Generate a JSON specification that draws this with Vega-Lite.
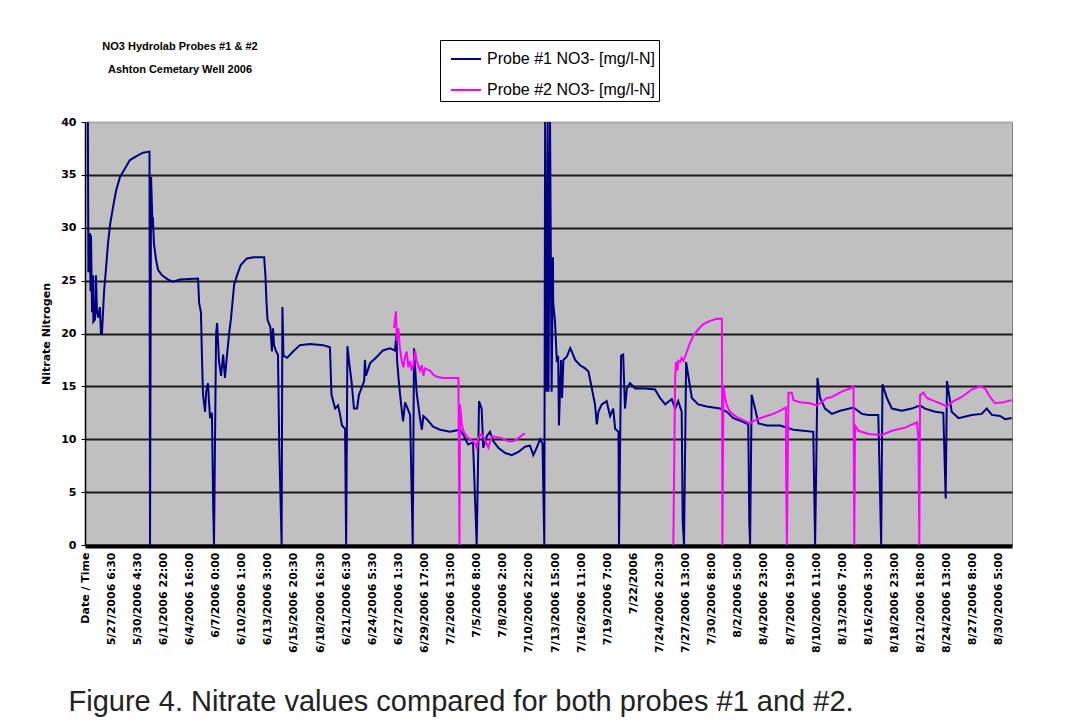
{
  "$schema": "https://vega.github.io/schema/vega-lite/v6.json",
  "autosize": "none",
  "width": 927,
  "height": 423,
  "padding": {"left": 85, "top": 122, "right": 55, "bottom": 178},
  "background": "white",
  "title": {
    "text": ["NO3 Hydrolab Probes #1 & #2", "Ashton Cemetary Well 2006"],
    "anchor": "start",
    "frame": "group",
    "align": "center",
    "dx": 95,
    "offset": -35,
    "font": "Liberation Sans",
    "fontSize": 11,
    "fontWeight": "bold",
    "lineHeight": 23,
    "color": "black"
  },
  "datasets": {
    "probe1": [
      {"x":11,"y":40},{"x":13,"y":25.8},{"x":15,"y":29.5},{"x":17,"y":26},{"x":19,"y":29.5},{"x":21,"y":24},{"x":23,"y":29.3},{"x":27,"y":22},{"x":31,"y":25.5},{"x":32,"y":21.1},{"x":38,"y":21.3},{"x":42,"y":25.5},{"x":46,"y":22},{"x":50,"y":21.5},{"x":57,"y":22.5},{"x":61,"y":20},{"x":65,"y":20},{"x":69,"y":22},{"x":73,"y":24},{"x":80,"y":26},{"x":88,"y":28.5},{"x":96,"y":30.3},{"x":107,"y":31.9},{"x":119,"y":33.5},{"x":134,"y":34.8},{"x":153,"y":35.6},{"x":172,"y":36.4},{"x":199,"y":36.8},{"x":222,"y":37.1},{"x":247,"y":37.2},{"x":249,"y":0},{"x":253,"y":34.8},{"x":257,"y":31.5},{"x":259,"y":30},{"x":260,"y":31},{"x":264,"y":28.5},{"x":272,"y":27},{"x":280,"y":26},{"x":295,"y":25.5},{"x":318,"y":25.1},{"x":337,"y":24.9},{"x":364,"y":25.1},{"x":433,"y":25.2},{"x":437,"y":22.9},{"x":444,"y":22},{"x":448,"y":17.7},{"x":452,"y":14.2},{"x":460,"y":12.6},{"x":464,"y":14.5},{"x":471,"y":15.3},{"x":475,"y":13.5},{"x":479,"y":12},{"x":486,"y":12.5},{"x":491,"y":3.5},{"x":494,"y":0},{"x":502,"y":20},{"x":506,"y":21},{"x":513,"y":17.4},{"x":521,"y":16},{"x":529,"y":18},{"x":536,"y":15.8},{"x":544,"y":18},{"x":552,"y":20},{"x":559,"y":21.4},{"x":571,"y":24.6},{"x":582,"y":25.5},{"x":597,"y":26.5},{"x":620,"y":27.1},{"x":647,"y":27.2},{"x":686,"y":27.2},{"x":691,"y":25.5},{"x":695,"y":23},{"x":699,"y":21.3},{"x":710,"y":20.6},{"x":716,"y":18.3},{"x":720,"y":20.5},{"x":724,"y":18.9},{"x":732,"y":18.3},{"x":739,"y":18},{"x":744,"y":9.2},{"x":753,"y":0},{"x":756,"y":22.5},{"x":760,"y":17.9},{"x":774,"y":17.7},{"x":793,"y":18.2},{"x":823,"y":18.9},{"x":862,"y":19},{"x":912,"y":18.9},{"x":938,"y":18.7},{"x":944,"y":14.2},{"x":958,"y":12.9},{"x":969,"y":13.2},{"x":977,"y":12.3},{"x":984,"y":11.3},{"x":996,"y":11},{"x":1000,"y":0},{"x":1005,"y":18.8},{"x":1011,"y":17.4},{"x":1021,"y":15.4},{"x":1030,"y":12.9},{"x":1042,"y":12.9},{"x":1049,"y":14.2},{"x":1069,"y":15.5},{"x":1072,"y":17.5},{"x":1076,"y":16},{"x":1092,"y":17.2},{"x":1118,"y":17.8},{"x":1141,"y":18.4},{"x":1168,"y":18.6},{"x":1187,"y":18.4},{"x":1193,"y":20},{"x":1195,"y":17.5},{"x":1201,"y":15.7},{"x":1206,"y":14.4},{"x":1212,"y":13},{"x":1218,"y":11.7},{"x":1226,"y":13.5},{"x":1237,"y":12.8},{"x":1245,"y":12.3},{"x":1255,"y":0},{"x":1260,"y":18.6},{"x":1270,"y":14.4},{"x":1283,"y":12},{"x":1290,"y":10.9},{"x":1296,"y":12.2},{"x":1309,"y":11.9},{"x":1333,"y":11.2},{"x":1360,"y":10.9},{"x":1398,"y":10.7},{"x":1436,"y":10.9},{"x":1449,"y":10.4},{"x":1467,"y":9.5},{"x":1486,"y":9.7},{"x":1500,"y":0},{"x":1509,"y":13.6},{"x":1519,"y":12.9},{"x":1525,"y":9.2},{"x":1539,"y":10.3},{"x":1551,"y":10.7},{"x":1564,"y":9.8},{"x":1583,"y":9.2},{"x":1609,"y":8.7},{"x":1634,"y":8.5},{"x":1660,"y":8.8},{"x":1685,"y":9.3},{"x":1704,"y":9.4},{"x":1717,"y":8.5},{"x":1730,"y":9.2},{"x":1743,"y":10},{"x":1752,"y":9.6},{"x":1759,"y":0},{"x":1762,"y":40},{"x":1768,"y":14.5},{"x":1772,"y":40},{"x":1775,"y":14.5},{"x":1781,"y":40},{"x":1787,"y":14.5},{"x":1792,"y":27.2},{"x":1793,"y":23},{"x":1800,"y":21.1},{"x":1807,"y":17.3},{"x":1812,"y":17.9},{"x":1815,"y":11.3},{"x":1823,"y":17.5},{"x":1827,"y":13.9},{"x":1832,"y":17.5},{"x":1845,"y":17.8},{"x":1858,"y":18.6},{"x":1864,"y":18.3},{"x":1877,"y":17.5},{"x":1896,"y":17},{"x":1915,"y":16.7},{"x":1928,"y":16.4},{"x":1941,"y":14.8},{"x":1953,"y":13.3},{"x":1960,"y":11.4},{"x":1966,"y":12.6},{"x":1979,"y":13.3},{"x":1998,"y":13.6},{"x":2004,"y":12.9},{"x":2011,"y":12.2},{"x":2023,"y":12.9},{"x":2030,"y":11},{"x":2043,"y":10.7},{"x":2045,"y":0},{"x":2053,"y":17.9},{"x":2061,"y":18},{"x":2068,"y":12.9},{"x":2075,"y":14.8},{"x":2087,"y":15.3},{"x":2107,"y":14.8},{"x":2145,"y":14.8},{"x":2183,"y":14.7},{"x":2202,"y":13.9},{"x":2222,"y":13.3},{"x":2247,"y":13.8},{"x":2260,"y":12.9},{"x":2272,"y":13.6},{"x":2285,"y":12.6},{"x":2289,"y":2.2},{"x":2294,"y":0},{"x":2302,"y":17.3},{"x":2311,"y":15.9},{"x":2324,"y":13.9},{"x":2348,"y":13.3},{"x":2381,"y":13.1},{"x":2432,"y":12.9},{"x":2458,"y":12.6},{"x":2483,"y":12},{"x":2515,"y":11.7},{"x":2540,"y":11.4},{"x":2544,"y":2.1},{"x":2547,"y":0},{"x":2553,"y":14.2},{"x":2560,"y":13.5},{"x":2566,"y":12.9},{"x":2579,"y":11.5},{"x":2611,"y":11.3},{"x":2662,"y":11.3},{"x":2713,"y":10.9},{"x":2751,"y":10.8},{"x":2789,"y":10.7},{"x":2796,"y":0},{"x":2805,"y":15.8},{"x":2815,"y":13.9},{"x":2834,"y":12.9},{"x":2860,"y":12.4},{"x":2892,"y":12.7},{"x":2943,"y":13},{"x":2975,"y":12.4},{"x":3000,"y":12.3},{"x":3038,"y":12.3},{"x":3049,"y":0},{"x":3054,"y":15.2},{"x":3071,"y":13.9},{"x":3090,"y":12.9},{"x":3128,"y":12.7},{"x":3166,"y":12.9},{"x":3198,"y":13.2},{"x":3217,"y":12.9},{"x":3256,"y":12.6},{"x":3287,"y":12.5},{"x":3296,"y":4.4},{"x":3301,"y":15.5},{"x":3319,"y":12.6},{"x":3345,"y":12},{"x":3396,"y":12.3},{"x":3434,"y":12.4},{"x":3453,"y":12.9},{"x":3473,"y":12.3},{"x":3504,"y":12.2},{"x":3524,"y":11.9},{"x":3549,"y":12}
    ],
    "probe2": [
      {"x":1183,"y":20.5,"seg":1},{"x":1191,"y":22.1,"seg":1},{"x":1194,"y":19.3,"seg":1},{"x":1200,"y":20.5,"seg":1},{"x":1206,"y":18.6,"seg":1},{"x":1213,"y":17.4,"seg":1},{"x":1219,"y":16.8,"seg":1},{"x":1226,"y":17.9,"seg":1},{"x":1232,"y":18.3,"seg":1},{"x":1238,"y":16.8,"seg":1},{"x":1245,"y":17.4,"seg":1},{"x":1251,"y":16.5,"seg":1},{"x":1257,"y":17,"seg":1},{"x":1264,"y":18.4,"seg":1},{"x":1270,"y":17.4,"seg":1},{"x":1283,"y":16.5,"seg":1},{"x":1290,"y":17,"seg":1},{"x":1296,"y":16,"seg":1},{"x":1302,"y":16.7,"seg":1},{"x":1321,"y":16.5,"seg":1},{"x":1334,"y":16.1,"seg":1},{"x":1347,"y":15.9,"seg":1},{"x":1372,"y":15.8,"seg":1},{"x":1430,"y":15.8,"seg":1},{"x":1434,"y":0,"seg":1},{"x":1436,"y":13.3,"seg":1},{"x":1440,"y":12.3,"seg":1},{"x":1443,"y":11.4,"seg":1},{"x":1449,"y":10.8,"seg":1},{"x":1455,"y":10.5,"seg":1},{"x":1468,"y":10.1,"seg":1},{"x":1481,"y":9.9,"seg":1},{"x":1494,"y":9.6,"seg":1},{"x":1500,"y":9.2,"seg":1},{"x":1506,"y":10.1,"seg":1},{"x":1519,"y":10.5,"seg":1},{"x":1532,"y":9.9,"seg":1},{"x":1545,"y":9.2,"seg":1},{"x":1558,"y":10.3,"seg":1},{"x":1577,"y":10.2,"seg":1},{"x":1596,"y":10.1,"seg":1},{"x":1621,"y":9.8,"seg":1},{"x":1640,"y":9.8,"seg":1},{"x":1660,"y":10.1,"seg":1},{"x":1679,"y":10.5,"seg":1},{"x":1685,"y":10.5,"seg":1},
      {"x":2253,"y":0,"seg":2},{"x":2260,"y":15.8,"seg":2},{"x":2263,"y":17.3,"seg":2},{"x":2269,"y":16.5,"seg":2},{"x":2272,"y":17.4,"seg":2},{"x":2279,"y":17.3,"seg":2},{"x":2285,"y":17.7,"seg":2},{"x":2292,"y":17.4,"seg":2},{"x":2305,"y":18.3,"seg":2},{"x":2317,"y":19.1,"seg":2},{"x":2330,"y":19.8,"seg":2},{"x":2349,"y":20.4,"seg":2},{"x":2368,"y":20.9,"seg":2},{"x":2394,"y":21.2,"seg":2},{"x":2419,"y":21.4,"seg":2},{"x":2439,"y":21.4,"seg":2},{"x":2441,"y":0,"seg":2},{"x":2445,"y":15.1,"seg":2},{"x":2451,"y":14,"seg":2},{"x":2458,"y":13.2,"seg":2},{"x":2470,"y":12.6,"seg":2},{"x":2496,"y":12.1,"seg":2},{"x":2521,"y":11.8,"seg":2},{"x":2547,"y":11.5,"seg":2},{"x":2566,"y":11.8,"seg":2},{"x":2598,"y":12.1,"seg":2},{"x":2636,"y":12.4,"seg":2},{"x":2662,"y":12.7,"seg":2},{"x":2684,"y":13,"seg":2},{"x":2685,"y":6.5,"seg":2},{"x":2688,"y":0,"seg":2},{"x":2694,"y":14.4,"seg":2},{"x":2707,"y":14.4,"seg":2},{"x":2713,"y":13.7,"seg":2},{"x":2738,"y":13.5,"seg":2},{"x":2777,"y":13.4,"seg":2},{"x":2802,"y":13.2,"seg":2},{"x":2821,"y":13.5,"seg":2},{"x":2841,"y":13.9,"seg":2},{"x":2860,"y":14,"seg":2},{"x":2898,"y":14.5,"seg":2},{"x":2930,"y":14.8,"seg":2},{"x":2943,"y":15,"seg":2},{"x":2946,"y":0,"seg":2},{"x":2949,"y":11.3,"seg":2},{"x":2962,"y":10.8,"seg":2},{"x":3000,"y":10.5,"seg":2},{"x":3051,"y":10.4,"seg":2},{"x":3090,"y":10.8,"seg":2},{"x":3141,"y":11.1,"seg":2},{"x":3186,"y":11.6,"seg":2},{"x":3192,"y":9.9,"seg":2},{"x":3195,"y":0,"seg":2},{"x":3198,"y":14.2,"seg":2},{"x":3211,"y":14.4,"seg":2},{"x":3224,"y":13.9,"seg":2},{"x":3243,"y":13.7,"seg":2},{"x":3275,"y":13.4,"seg":2},{"x":3300,"y":13.1,"seg":2},{"x":3326,"y":13.6,"seg":2},{"x":3358,"y":14,"seg":2},{"x":3396,"y":14.7,"seg":2},{"x":3428,"y":15,"seg":2},{"x":3447,"y":14.8,"seg":2},{"x":3466,"y":14,"seg":2},{"x":3485,"y":13.4,"seg":2},{"x":3517,"y":13.5,"seg":2},{"x":3549,"y":13.7,"seg":2}
    ]
  },
  "encoding": {
    "x": {
      "field": "x",
      "type": "quantitative",
      "scale": {"domain": [0, 3550], "nice": false},
      "axis": {
        "values": [0,100,200,300,400,500,600,700,800,900,1000,1100,1200,1300,1400,1500,1600,1700,1800,1900,2000,2100,2200,2300,2400,2500,2600,2700,2800,2900,3000,3100,3200,3300,3400,3500],
        "labelExpr": "['Date / Time','5/27/2006 6:30','5/30/2006 4:30','6/1/2006 22:00','6/4/2006 16:00','6/7/2006 0:00','6/10/2006 1:00','6/13/2006 3:00','6/15/2006 20:30','6/18/2006 16:30','6/21/2006 6:30','6/24/2006 5:30','6/27/2006 1:30','6/29/2006 17:00','7/2/2006 13:00','7/5/2006 8:00','7/8/2006 2:00','7/10/2006 22:00','7/13/2006 15:00','7/16/2006 11:00','7/19/2006 7:00','7/22/2006','7/24/2006 20:30','7/27/2006 13:00','7/30/2006 8:00','8/2/2006 5:00','8/4/2006 23:00','8/7/2006 19:00','8/10/2006 11:00','8/13/2006 7:00','8/16/2006 3:00','8/18/2006 23:00','8/21/2006 18:00','8/24/2006 13:00','8/27/2006 8:00','8/30/2006 5:00'][round(datum.value / 100)]",
        "labelAngle": -90,
        "labelFont": "DejaVu Sans",
        "labelFontWeight": "bold",
        "labelFontSize": 11,
        "labelColor": "black",
        "labelPadding": 6,
        "labelOverlap": false,
        "labelSeparation": 0,
        "labelFlush": false,
        "labelBound": false,
        "ticks": false,
        "tickSize": 0,
        "grid": false,
        "domainColor": "black",
        "domainWidth": 4,
        "offset": 1,
        "title": "Figure 4. Nitrate values compared for both probes #1 and #2.",
        "titleX": -17,
        "titleY": 164,
        "titleAlign": "left",
        "titleAnchor": "start",
        "titleAngle": 0,
        "titleBaseline": "alphabetic",
        "titleFont": "Liberation Sans",
        "titleFontSize": 29,
        "titleFontWeight": "normal",
        "titleColor": "#222222"
      }
    },
    "y": {
      "field": "y",
      "type": "quantitative",
      "scale": {"domain": [0, 40], "nice": false},
      "axis": {
        "values": [0,5,10,15,20,25,30,35,40],
        "grid": true,
        "gridColor": {"condition": {"test": "datum.value == 40", "value": "#a8a8a8"}, "value": "#1a1a1a"},
        "gridWidth": 2,
        "tickColor": "black",
        "tickSize": 4,
        "domainColor": "black",
        "domainWidth": 1.5,
        "labelFont": "DejaVu Sans",
        "labelFontWeight": "bold",
        "labelFontSize": 11,
        "labelColor": "black",
        "labelPadding": 5,
        "title": "Nitrate Nitrogen",
        "titleFont": "DejaVu Sans",
        "titleFontSize": 11,
        "titleFontWeight": "bold",
        "titleColor": "black",
        "titlePadding": 9
      }
    }
  },
  "layer": [
    {
      "data": {"name": "probe1"},
      "mark": {"type": "line", "strokeWidth": 2, "clip": true},
      "encoding": {
        "color": {
          "datum": "Probe #1 NO3- [mg/l-N]",
          "scale": {"domain": ["Probe #1 NO3- [mg/l-N]", "Probe #2 NO3- [mg/l-N]"], "range": ["#000080", "#FF00FF"]},
          "legend": {
            "orient": "none",
            "legendX": 355,
            "legendY": -82,
            "title": null,
            "symbolType": "stroke",
            "symbolSize": 900,
            "symbolStrokeWidth": 2,
            "symbolOffset": 7,
            "labelFont": "Liberation Sans",
            "labelFontSize": 16,
            "labelColor": "black",
            "labelOffset": 5,
            "labelLimit": 400,
            "strokeColor": "black",
            "fillColor": "white",
            "padding": 3,
            "rowPadding": 7
          }
        }
      }
    },
    {
      "data": {"name": "probe2"},
      "mark": {"type": "line", "strokeWidth": 2, "clip": true},
      "encoding": {
        "color": {"datum": "Probe #2 NO3- [mg/l-N]"},
        "detail": {"field": "seg"}
      }
    }
  ],
  "config": {
    "view": {"fill": "#C0C0C0", "stroke": "#808080", "strokeWidth": 1},
    "axisX": {"labelOverlap": false}
  }
}
